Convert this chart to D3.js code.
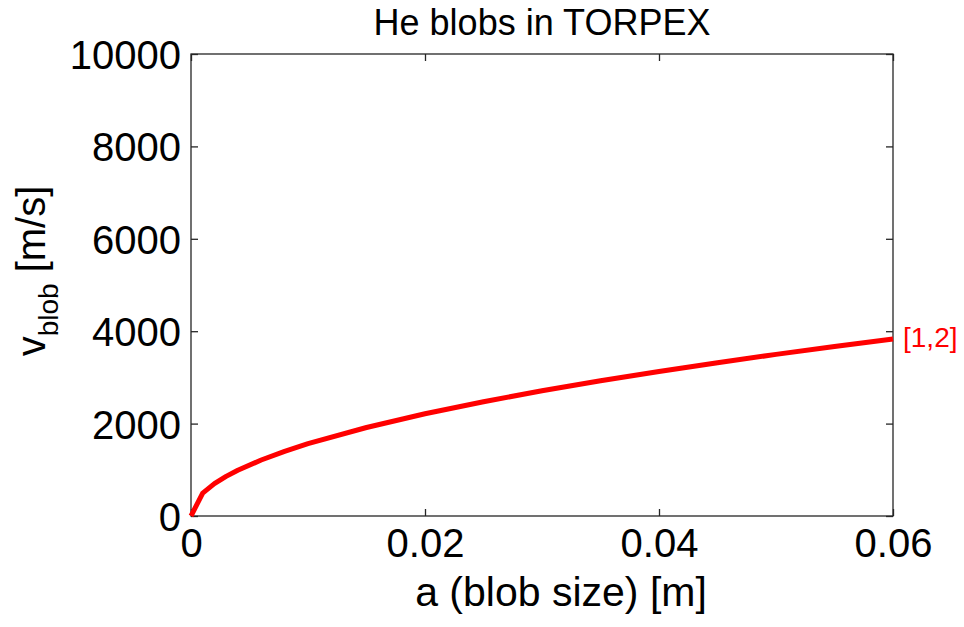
<!DOCTYPE html>
<html>
<head>
<meta charset="utf-8">
<script src="https://cdn.jsdelivr.net/npm/d3@7"></script>
<style>
  html, body { margin: 0; padding: 0; background: #fff; }
  svg { display: block; font-family: "Liberation Sans", Arial, sans-serif; }
</style>
</head>
<body>
<svg id="chart" width="964" height="627"></svg>
<script>
// Blob velocity vs. blob size, He plasma in TORPEX, scaling [1,2]
const blobSize = [0, 0.001, 0.002, 0.003, 0.004, 0.006, 0.008, 0.010, 0.015, 0.020,
                  0.025, 0.030, 0.035, 0.040, 0.045, 0.050, 0.055, 0.060];
const blobVelocity = [0, 495, 700, 857, 990, 1212, 1400, 1565, 1916, 2212,
                      2474, 2710, 2927, 3129, 3319, 3498, 3669, 3832];
const xTicks = [0, 0.02, 0.04, 0.06];
const yTicks = [0, 2000, 4000, 6000, 8000, 10000];
const titleText = "He blobs in TORPEX";
const xLabelText = "a (blob size) [m]";
const seriesLabel = "[1,2]";

const svg = d3.select("#chart");
const plot = { left: 191, right: 893, top: 54, bottom: 516 };

const x = d3.scaleLinear().domain([0, 0.06]).range([plot.left, plot.right]);
const y = d3.scaleLinear().domain([0, 10000]).range([plot.bottom, plot.top]);

const axisColor = "#262626";
const tickLen = 7;

// box
svg.append("rect")
  .attr("x", plot.left).attr("y", plot.top)
  .attr("width", plot.right - plot.left).attr("height", plot.bottom - plot.top)
  .attr("fill", "none").attr("stroke", axisColor).attr("stroke-width", 1.3);

// axes with inward ticks
const fmtX = d => d === 0 ? "0" : d3.format(".2f")(d);
const bottomAxis = d3.axisBottom(x).tickValues(xTicks).tickSize(-tickLen).tickPadding(13).tickFormat(fmtX);
const topAxis = d3.axisTop(x).tickValues(xTicks).tickSize(-tickLen).tickFormat("");
const leftAxis = d3.axisLeft(y).tickValues(yTicks).tickSize(-tickLen).tickPadding(10).tickFormat(d3.format("d"));
const rightAxis = d3.axisRight(y).tickValues(yTicks).tickSize(-tickLen).tickFormat("");

function styleAxis(g) {
  g.select(".domain").remove();
  g.selectAll(".tick line").attr("stroke", axisColor).attr("stroke-width", 1.3);
  g.selectAll(".tick text").attr("fill", "#000").attr("font-size", 40)
    .attr("font-family", "Liberation Sans, Arial, sans-serif");
}

svg.append("g").attr("transform", `translate(0,${plot.bottom})`).call(bottomAxis).call(styleAxis)
  .selectAll(".tick text").attr("dy", "0.71em");
svg.append("g").attr("transform", `translate(0,${plot.top})`).call(topAxis).call(styleAxis);
svg.append("g").attr("transform", `translate(${plot.left},0)`).call(leftAxis).call(styleAxis)
  .selectAll(".tick text").attr("dy", "0.36em");
svg.append("g").attr("transform", `translate(${plot.right},0)`).call(rightAxis).call(styleAxis);

// curve
const line = d3.line().x((d, i) => x(blobSize[i])).y(d => y(d));
svg.append("path")
  .datum(blobVelocity)
  .attr("d", line)
  .attr("fill", "none")
  .attr("stroke", "#ff0000")
  .attr("stroke-width", 5)
  .attr("stroke-linejoin", "round");

// series label at the end of the curve
svg.append("text")
  .attr("x", x(blobSize[blobSize.length - 1]) + 10)
  .attr("y", y(blobVelocity[blobVelocity.length - 1]) + 8)
  .attr("fill", "#ff0000")
  .attr("font-size", 28)
  .text(seriesLabel);

// title
svg.append("text")
  .attr("x", (plot.left + plot.right) / 2)
  .attr("y", 35)
  .attr("text-anchor", "middle")
  .attr("font-size", 36)
  .attr("fill", "#000")
  .text(titleText);

// x label
svg.append("text")
  .attr("x", 561)
  .attr("y", 606)
  .attr("text-anchor", "middle")
  .attr("font-size", 41)
  .attr("fill", "#000")
  .text(xLabelText);

// y label with subscript
const yl = svg.append("text")
  .attr("transform", "translate(45,271) rotate(-90)")
  .attr("text-anchor", "middle")
  .attr("font-size", 40)
  .attr("fill", "#000");
yl.append("tspan").text("v");
yl.append("tspan").attr("font-size", 28).attr("dy", 13).text("blob");
yl.append("tspan").attr("dy", -13).text(" [m/s]");
</script>
</body>
</html>
